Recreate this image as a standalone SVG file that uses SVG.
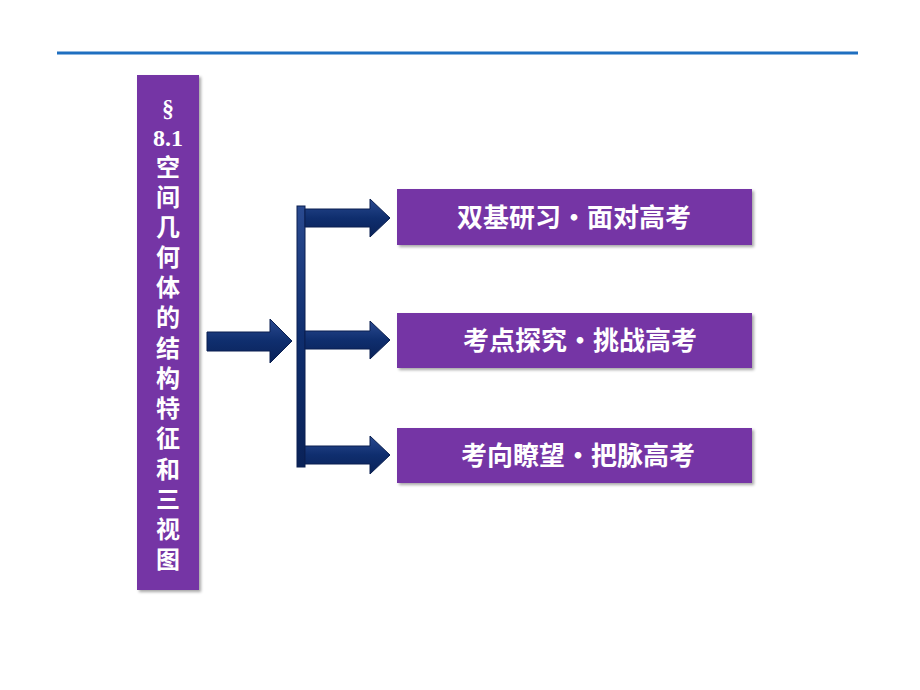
<svg xmlns="http://www.w3.org/2000/svg" width="920" height="690" viewBox="0 0 920 690">
<defs>
<linearGradient id="ag" x1="0" y1="0" x2="0" y2="1"><stop offset="0" stop-color="#2a4a90"/><stop offset="0.5" stop-color="#0f2e6e"/><stop offset="1" stop-color="#0a2258"/></linearGradient>
<filter id="sh" x="-10%" y="-10%" width="130%" height="130%"><feDropShadow dx="2" dy="2" stdDeviation="1.5" flood-color="#000" flood-opacity="0.35"/></filter>
</defs>
<style>
.box{fill:#7535a5;filter:url(#sh)}
.t{font-family:"Noto Sans CJK SC",sans-serif;font-weight:bold;fill:#fff;font-size:26px;text-anchor:middle}
.v{font-family:"Liberation Serif","Noto Sans CJK SC",serif;font-weight:bold;fill:#fff;font-size:24px;text-anchor:middle}
.ar{fill:url(#ag);stroke:#0a1f50;stroke-width:1}
</style>
<rect width="920" height="690" fill="#fff"/>
<line x1="57" y1="53" x2="858" y2="53" stroke="#1f6fc0" stroke-width="3"/>
<g id="title">
<rect class="box" x="137" y="75" width="62" height="515"/>
<text class="v" x="168" y="116">§</text>
<text class="v" x="168" y="146">8.1</text>
<text class="v" x="168" y="176">空</text>
<text class="v" x="168" y="206">间</text>
<text class="v" x="168" y="236">几</text>
<text class="v" x="168" y="266">何</text>
<text class="v" x="168" y="296">体</text>
<text class="v" x="168" y="326">的</text>
<text class="v" x="168" y="357">结</text>
<text class="v" x="168" y="387">构</text>
<text class="v" x="168" y="417">特</text>
<text class="v" x="168" y="447">征</text>
<text class="v" x="168" y="478">和</text>
<text class="v" x="168" y="508">三</text>
<text class="v" x="168" y="538">视</text>
<text class="v" x="168" y="568">图</text>
</g>
<g id="connectors">
<polygon class="ar" points="207,332 270,332 270,319 292,341 270,363 270,351 207,351"/>
<rect class="ar" x="297" y="206" width="8" height="261"/>
<polygon class="ar" points="305,209 370,209 370,199 390,218 370,237 370,227 305,227"/>
<polygon class="ar" points="305,331 370,331 370,321 390,340 370,359 370,349 305,349"/>
<polygon class="ar" points="305,446 370,446 370,436 390,455 370,474 370,464 305,464"/>
</g>
<g id="n1"><rect class="box" x="397" y="189" width="355" height="56"/><text class="t" x="574" y="227">双基研习•面对高考</text></g>
<g id="n2"><rect class="box" x="397" y="313" width="355" height="55"/><text class="t" x="580" y="350">考点探究•挑战高考</text></g>
<g id="n3"><rect class="box" x="397" y="428" width="355" height="55"/><text class="t" x="578" y="465">考向瞭望•把脉高考</text></g>
</svg>
